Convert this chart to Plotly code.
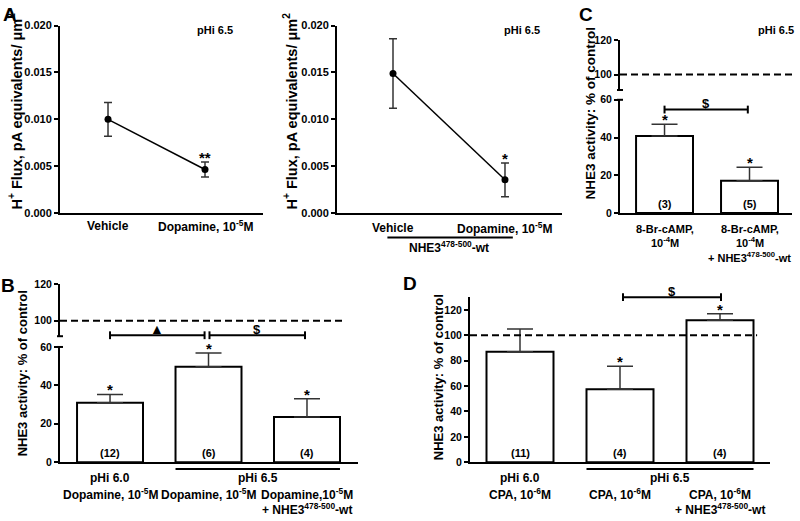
import plotly.graph_objects as go

W, H = 800, 521
FONT = "Liberation Sans, Arial, Helvetica, sans-serif"
ERRC = "#333333"


def fx(px):
    return px / W


def fy(py):
    return 1 - py / H


# ---------------- data ----------------
CONTROL = 100
NHE3 = "NHE3<sup>478-500</sup>-wt"

# Panel A (left): H+ flux
a1_labels = ["Vehicle", "Dopamine, 10<sup>-5</sup>M"]
a1_vals = [0.0100, 0.00465]
a1_err = [0.0018, 0.0008]
a1_sig = ["", "**"]

# Panel A (right): H+ flux with NHE3 peptide
a2_labels = ["Vehicle", "Dopamine, 10<sup>-5</sup>M"]
a2_vals = [0.01488, 0.00355]
a2_err = [0.0037, 0.0018]
a2_sig = ["", "*"]

# Panel B
b_line1 = ["pHi 6.0", "", ""]
b_line2 = ["Dopamine, 10<sup>-5</sup>M", "Dopamine, 10<sup>-5</sup>M", "Dopamine,10<sup>-5</sup>M"]
b_line3 = ["", "", "+ " + NHE3]
b_vals = [31.0, 49.7, 23.5]
b_err = [4.3, 7.2, 9.5]
b_n = ["(12)", "(6)", "(4)"]
b_sig = ["*", "*", "*"]

# Panel C
c_line1 = ["8-Br-cAMP,", "8-Br-cAMP,"]
c_line2 = ["10<sup>-4</sup>M", "10<sup>-4</sup>M"]
c_line3 = ["", "+ " + NHE3]
c_vals = [40.8, 17.2]
c_err = [6.3, 7.1]
c_n = ["(3)", "(5)"]
c_sig = ["*", "*"]

# Panel D
d_line1 = ["pHi 6.0", "", ""]
d_line2 = ["CPA, 10<sup>-6</sup>M", "CPA, 10<sup>-6</sup>M", "CPA, 10<sup>-6</sup>M"]
d_line3 = ["", "", "+ " + NHE3]
d_vals = [87.0, 57.5, 111.8]
d_err = [18.0, 18.1, 5.1]
d_n = ["(11)", "(4)", "(4)"]
d_sig = ["", "*", "*"]

BAR_W = 0.67

fig = go.Figure()
annotations = []
shapes = []


def ann(text, x, y, xref, yref, size=12, **kw):
    d = dict(text=text, x=x, y=y, xref=xref, yref=yref, showarrow=False,
             xanchor="center", yanchor="middle",
             font=dict(family=FONT, size=size, color="black", weight="bold"))
    d.update(kw)
    annotations.append(d)


def line(x0, x1, y0, y1, xref, yref, width=2, dash=None, color="black"):
    ln = dict(color=color, width=width)
    if dash:
        ln["dash"] = dash
    shapes.append(dict(type="line", x0=x0, x1=x1, y0=y0, y1=y1, xref=xref, yref=yref, line=ln))


def bracket(xa, xb, py, xref, sym, sym_py, tick=4, size=13):
    line(xa, xb, fy(py), fy(py), xref, "paper")
    line(xa, xa, fy(py - tick), fy(py + tick), xref, "paper")
    line(xb, xb, fy(py - tick), fy(py + tick), xref, "paper")
    ann(sym, (xa + xb) / 2, fy(sym_py), xref, "paper", size=size)


def axis_cap(px, py):
    line(fx(px - 3), fx(px + 3), fy(py), fy(py), "paper", "paper")


# ---------------- Panel A traces ----------------
for vals, err, xa, ya in [(a1_vals, a1_err, "x", "y"), (a2_vals, a2_err, "x2", "y2")]:
    fig.add_trace(go.Scatter(
        x=list(range(len(vals))), y=vals, xaxis=xa, yaxis=ya, mode="lines+markers",
        line=dict(color="black", width=1.5), marker=dict(color="black", size=7),
        error_y=dict(type="data", array=err, color=ERRC, thickness=1.5, width=4),
        showlegend=False, hoverinfo="skip"))

# ---------------- Bar traces ----------------
for vals, err, xa, ya in [(c_vals, c_err, "x3", "y3"), (b_vals, b_err, "x4", "y5"),
                          (d_vals, d_err, "x5", "y7")]:
    fig.add_trace(go.Bar(
        x=list(range(len(vals))), y=vals, xaxis=xa, yaxis=ya, width=BAR_W,
        marker=dict(color="white", line=dict(color="black", width=2)),
        error_y=dict(type="data", array=err, arrayminus=[0] * len(err), symmetric=False,
                     color=ERRC, thickness=1.5, width=13),
        showlegend=False, hoverinfo="skip"))

# empty traces to register top broken-axis segments
fig.add_trace(go.Scatter(x=[], y=[], xaxis="x3", yaxis="y4", showlegend=False))
fig.add_trace(go.Scatter(x=[], y=[], xaxis="x4", yaxis="y6", showlegend=False))


# ---------------- axes ----------------
def xaxis(px0, px1, rng, anchor):
    return dict(domain=[fx(px0), fx(px1)], range=rng, anchor=anchor, showline=True,
                linewidth=2, linecolor="black", ticks="", showticklabels=False,
                showgrid=False, zeroline=False, fixedrange=True)


def yaxis(py_bot, py_top, rng, tickvals, anchor, fmt=None, size=10.5):
    d = dict(domain=[fy(py_bot), fy(py_top)], range=rng, anchor=anchor, showline=True,
             linewidth=2, linecolor="black", ticks="outside", ticklen=4, tickwidth=2,
             tickcolor="black", tickvals=tickvals, showgrid=False, zeroline=False,
             tickfont=dict(family=FONT, size=size, color="black", weight="bold"),
             fixedrange=True)
    if fmt:
        d["tickformat"] = fmt
    return d


A_TICKS = [0, 0.005, 0.010, 0.015, 0.020]
fig.update_layout(
    xaxis=xaxis(60, 263, [-0.495, 1.598], "y"),
    yaxis=yaxis(212, 20, [0, 0.020], A_TICKS, "x", ".3f", 11),
    xaxis2=xaxis(337, 562, [-0.5, 1.509], "y2"),
    yaxis2=yaxis(212, 20, [0, 0.020], A_TICKS, "x2", ".3f", 11),
    xaxis3=xaxis(620, 792, [-0.524, 1.5], "y3"),
    yaxis3=yaxis(212, 96, [0, 60], [0, 20, 40, 60], "x3"),
    yaxis4=yaxis(86, 35, [91, 120], [100, 120], "x3"),
    xaxis4=xaxis(60, 358, [-0.508, 2.518], "y5"),
    yaxis5=yaxis(467, 349, [0, 60], [0, 20, 40, 60], "x4"),
    yaxis6=yaxis(338, 285, [91.4, 120], [100, 120], "x4"),
    xaxis5=xaxis(470, 770, [-0.5, 2.5], "y7"),
    yaxis7=yaxis(467, 298, [0, 130], [0, 20, 40, 60, 80, 100, 120], "x5"),
)

# broken-axis caps
axis_cap(620, 86)
axis_cap(620, 96)
axis_cap(60, 338)
axis_cap(60, 349)

# control (100 %) dashed lines
line(0, 1, CONTROL, CONTROL, "x3 domain", "y4", dash="7px,4px")
line(0, 0.956, CONTROL, CONTROL, "x4 domain", "y6", dash="7px,4px")
line(0, 0.957, CONTROL, CONTROL, "x5 domain", "y7", dash="7px,4px")

# ---------------- Panel A labels ----------------
for i, t in enumerate(a1_labels):
    ann(t, i, fy(225), "x", "paper", size=12)
for i, t in enumerate(a2_labels):
    ann(t, i, fy(227), "x2", "paper", size=12)
line(-0.05, 1.07, fy(237), fy(237), "x2", "paper")
ann(NHE3, 0.5, fy(247), "x2", "paper", size=12)

for i, s in enumerate(a1_sig):
    if s:
        ann(s, i, a1_vals[i] + a1_err[i], "x", "y", size=15, yanchor="bottom", yshift=-6)
for i, s in enumerate(a2_sig):
    if s:
        ann(s, i, a2_vals[i] + a2_err[i], "x2", "y2", size=15, yanchor="bottom", yshift=-6)

ann("pHi 6.5", fx(215), fy(25), "paper", "paper", size=11)
ann("pHi 6.5", fx(522), fy(25), "paper", "paper", size=11)
ann("pHi 6.5", fx(776), fy(25), "paper", "paper", size=11)

# y titles
ann("H<sup>+</sup> Flux, pA equivalents/ μm<sup>2</sup>", fx(15), fy(108), "paper", "paper",
    size=14.5, textangle=-90)
ann("H<sup>+</sup> Flux, pA equivalents/ μm<sup>2</sup>", fx(290), fy(108), "paper", "paper",
    size=14.5, textangle=-90)
ann("NHE3 activity: % of control", fx(590), fy(110), "paper", "paper", size=13.5, textangle=-90)
ann("NHE3 activity: % of control", fx(22), fy(376), "paper", "paper", size=13, textangle=-90)
ann("NHE3 activity: % of control", fx(438), fy(380), "paper", "paper", size=13, textangle=-90)

# panel letters
for letter, px, py in [("A", 10, 9), ("C", 586, 9), ("B", 8, 286), ("D", 410, 284)]:
    ann(letter, fx(px), fy(py), "paper", "paper", size=19)


# ---------------- bar panel labels ----------------
def bar_labels(xref, yref, vals, err, n, sig, l1, l2, l3, ys, size=12):
    for i in range(len(vals)):
        ann(n[i], i, 0, xref, yref, size=11, yanchor="bottom", yshift=1)
        if sig[i]:
            ann(sig[i], i, vals[i] + err[i], xref, yref, size=15, yanchor="bottom", yshift=-6)
        for txt, py in zip((l1[i], l2[i], l3[i]), ys):
            if txt:
                ann(txt, i, fy(py), xref, "paper", size=size)


bar_labels("x3", "y3", c_vals, c_err, c_n, c_sig, c_line1, c_line2, c_line3, (228, 242, 257),
           size=11)
bar_labels("x4", "y5", b_vals, b_err, b_n, b_sig, b_line1, b_line2, b_line3, (483, 500, 515))
bar_labels("x5", "y7", d_vals, d_err, d_n, d_sig, d_line1, d_line2, d_line3, (483, 499, 515))

# group underline + "pHi 6.5"
for xref in ("x4", "x5"):
    line(1 - BAR_W / 2, 2 + BAR_W / 2, fy(474), fy(474), xref, "paper")
    ann("pHi 6.5", 1.5, fy(483), xref, "paper", size=12)

# significance brackets
bracket(0.0, 0.96, 337, "x4", "▲", 331, size=14)
bracket(1.01, 1.98, 337, "x4", "$", 331)
bracket(0.0, 0.98, 106, "x3", "$", 100)
bracket(1.03, 2.01, 298, "x5", "$", 292)

fig.update_layout(
    width=W, height=H, margin=dict(l=0, r=0, t=0, b=0),
    paper_bgcolor="white", plot_bgcolor="rgba(0,0,0,0)",
    font=dict(family=FONT, color="black"),
    annotations=annotations, shapes=shapes, showlegend=False,
)

fig.write_html("out.html", config={"displayModeBar": False},
               post_script="document.body.style.margin='0';document.body.style.overflow='hidden';")
